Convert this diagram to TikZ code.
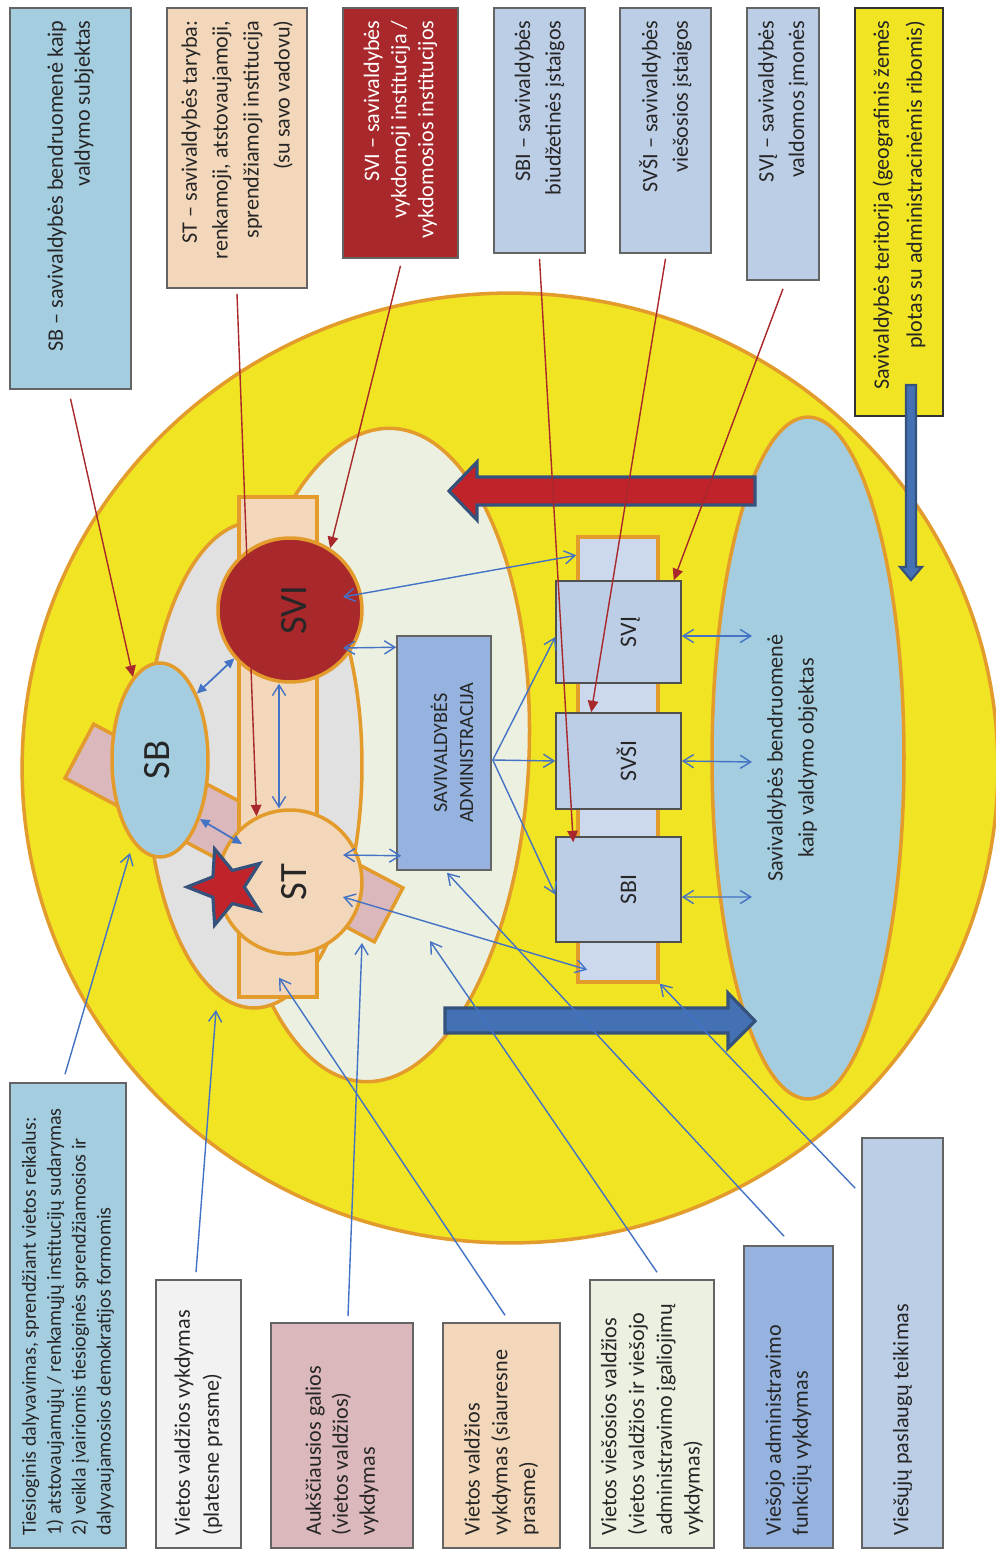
\documentclass[tikz,border=0pt]{standalone}
\usepackage{fontspec}
\setmainfont{Carlito}
\usepackage{graphicx}
\usepackage{tikz}
\usetikzlibrary{shapes.geometric, arrows.meta, calc}

\definecolor{terryellow}{RGB}{240, 228, 35}
\definecolor{rimorange}{RGB}{227, 155, 44}
\definecolor{zonegreen}{RGB}{235, 240, 225}
\definecolor{zonegrey}{RGB}{225, 225, 225}
\definecolor{sbblue}{RGB}{165, 205, 224}
\definecolor{stpeach}{RGB}{242, 215, 186}
\definecolor{svired}{RGB}{168, 40, 43}
\definecolor{powerpink}{RGB}{219, 184, 188}
\definecolor{unitsteel}{RGB}{188, 205, 230}
\definecolor{unitlav}{RGB}{203, 216, 238}
\definecolor{adminblue}{RGB}{149, 179, 222}
\definecolor{lightgrey}{RGB}{242, 242, 242}
\definecolor{bigred}{RGB}{193, 35, 42}
\definecolor{bigblue}{RGB}{67, 113, 180}
\definecolor{arrowedge}{RGB}{52, 82, 124}
\definecolor{linkblue}{RGB}{68, 114, 196}
\definecolor{linkred}{RGB}{168, 40, 43}
\definecolor{boxgray}{RGB}{100, 100, 100}
\definecolor{inkgray}{RGB}{38, 38, 38}

\newcommand\boxfont[1]{\fontsize{12.6}{#1}\selectfont}
\newcommand\vtext[1]{\rotatebox{90}{\begin{tabular}{@{}c@{}}#1\end{tabular}}}

\begin{document}
\begin{tikzpicture}[x=0.02cm, y=-0.02cm,
    box/.style={draw=boxgray, line width=0.9pt, rotate=90, inner ysep=0pt, inner xsep=0.25cm, text=inkgray},
    upbox/.style={box, align=flush right},
    lowbox/.style={box, align=flush left},
    rimmed/.style={draw=rimorange, line width=2pt, inner sep=0pt},
    unit/.style={draw=boxgray!80!black, line width=0.9pt, fill=unitsteel, inner sep=0pt, text=inkgray, font=\fontsize{13.5}{16}\selectfont},
    link/.style={draw=linkblue, line width=0.8pt},
    tie/.style={link, {Straight Barb[length=6pt,width=7.5pt]}-{Straight Barb[length=6pt,width=7.5pt]}},
    hint/.style={link, -{Straight Barb[length=6pt,width=7.5pt]}},
    grip/.style={link, line width=1pt, {Triangle[length=5.5pt,width=5pt]}-{Triangle[length=5.5pt,width=5pt]}},
    pointer/.style={draw=linkred, line width=0.8pt, -{Triangle[length=6.5pt,width=6pt]}},
    bigarrow/.style={draw=arrowedge, line width=1.8pt, line join=miter},
]
\path[use as bounding box, fill=white] (0,0) rectangle (995,1550);

% Territory and zones
\node[ellipse, rimmed, fill=terryellow, minimum width=19.52cm, minimum height=19cm] (terr) at (510,768) {};
\node[ellipse, rimmed, fill=sbblue, minimum width=3.84cm, minimum height=13.64cm, text=inkgray, font=\boxfont{17.6}] (obj) at (808,758) {\vtext{Savivaldybės bendruomenė\\kaip valdymo objektas}\hspace*{0.64cm}};
\node[ellipse, rimmed, fill=zonegreen, minimum width=6.04cm, minimum height=13.08cm, rotate=-2.5] (zone) at (378,755) {};
\node[ellipse, rimmed, fill=zonegrey, minimum width=4.32cm, minimum height=9.72cm] (grey) at (254,765) {};

% Council, executive and community
\node[rimmed, fill=powerpink, minimum width=7cm, minimum height=1.22cm, rotate=-27.9] (band) at (234,833) {};
\node[rimmed, fill=stpeach, minimum width=1.56cm, minimum height=10cm] (peach) at (278,747) {};
\node[ellipse, rimmed, fill=sbblue, minimum width=1.92cm, minimum height=3.88cm, text=inkgray, font=\fontsize{22}{26}\selectfont] (sbell) at (160,760) {\vtext{SB}};
\node[circle, rimmed, fill=svired, minimum size=2.88cm, text=inkgray, font=\fontsize{22}{26}\selectfont] (svic) at (290,610) {\hspace*{0.3cm}\vtext{SVI}};
\node[circle, rimmed, fill=stpeach, minimum size=2.88cm, text=inkgray, font=\fontsize{22}{26}\selectfont] (stc) at (290,882) {\hspace*{0.3cm}\vtext{ST}};
\node[star, star points=5, star point ratio=2.3, minimum size=1.6cm, inner sep=0pt, fill=bigred, draw=arrowedge, line width=1.8pt, rotate=90] (star) at (227,887) {};

% Administration and institutions
\node[draw=boxgray, line width=0.9pt, fill=adminblue, minimum width=1.88cm, minimum height=4.68cm, inner sep=0pt, text=inkgray, font=\fontsize{11.5}{14.8}\selectfont] (admin) at (444,753) {\hspace*{0.44cm}\vtext{SAVIVALDYBĖS\\ADMINISTRACIJA}};
\node[rimmed, fill=unitlav, minimum width=1.6cm, minimum height=8.9cm] (lav) at (618,759.5) {};
\node[unit, minimum width=2.5cm, minimum height=2.04cm] (svj) at (618.5,632) {\hspace*{0.48cm}\vtext{SVĮ}};
\node[unit, minimum width=2.5cm, minimum height=1.92cm] (svsi) at (618.5,761) {\hspace*{0.48cm}\vtext{SVŠI}};
\node[unit, minimum width=2.5cm, minimum height=2.1cm] (sbi) at (618.5,889.5) {\hspace*{0.48cm}\vtext{SBI}};

% Big arrows
\draw[bigarrow, fill=bigred] (755,477) -- (477,477) -- (477,462) -- (449,491) -- (477,520) -- (477,505) -- (755,505) -- cycle;
\draw[bigarrow, fill=bigblue] (445,1008) -- (728,1008) -- (728,993) -- (755,1021) -- (728,1048) -- (728,1033) -- (445,1033) -- cycle;

% Top labels
\node[upbox, fill=sbblue, minimum width=7.62cm, minimum height=2.42cm, text width=7.12cm, font=\boxfont{15.4}] (sbbox) at (70.5,198.5) {SB – savivaldybės bendruomenė kaip\\valdymo subjektas};
\node[upbox, fill=stpeach, minimum width=5.6cm, minimum height=2.8cm, text width=5.1cm, font=\boxfont{17.6}] (stbox) at (237,148) {ST – savivaldybės taryba:\\renkamoji, atstovaujamoji,\\sprendžiamoji institucija\\(su savo vadovu)};
\node[upbox, fill=svired, text=white, minimum width=5cm, minimum height=2.3cm, text width=4.5cm, font=\boxfont{15.4}] (svibox) at (400.5,133) {SVI – savivaldybės\\vykdomoji institucija /\\vykdomosios institucijos};
\node[upbox, fill=unitsteel, minimum width=4.9cm, minimum height=1.82cm, text width=4.4cm, font=\boxfont{17.4}] (sbibox) at (539.5,130.5) {SBI – savivaldybės\\biudžetinės įstaigos};
\node[upbox, fill=unitsteel, minimum width=4.9cm, minimum height=1.82cm, text width=4.4cm, font=\boxfont{17.4}] (svsibox) at (665.5,130.5) {SVŠI – savivaldybės\\viešosios įstaigos};
\node[upbox, fill=unitsteel, minimum width=5.44cm, minimum height=1.44cm, text width=4.94cm, font=\boxfont{17.4}] (svjbox) at (783,144) {SVĮ – savivaldybės\\valdomos įmonės};
\node[upbox, draw=black!80, fill=terryellow, minimum width=8.16cm, minimum height=1.76cm, text width=7.66cm, font=\boxfont{18.8}] (terbox) at (899,212) {Savivaldybės teritorija (geografinis žemės\\plotas su administracinėmis ribomis)};
\draw[bigarrow, line width=1.2pt, fill=bigblue] (906,385) -- (906,567) -- (900,567) -- (911,580) -- (922,567) -- (916,567) -- (916,385) -- cycle;

% Bottom labels
\node[lowbox, fill=sbblue, minimum width=9.3cm, minimum height=2.32cm, text width=8.8cm, font=\fontsize{11.4}{14.2}\selectfont] (tiesbox) at (68,1315.5) {Tiesioginis dalyvavimas, sprendžiant vietos reikalus:\\1) atstovaujamųjų / renkamųjų institucijų sudarymas\\2) veikla įvairiomis tiesioginės sprendžiamosios ir\\dalyvaujamosios demokratijos formomis};
\node[lowbox, fill=lightgrey, minimum width=5.36cm, minimum height=1.7cm, text width=4.86cm, font=\boxfont{16.5}] (platbox) at (198.5,1414) {Vietos valdžios vykdymas\\(platesne prasme)};
\node[lowbox, fill=powerpink, minimum width=4.5cm, minimum height=2.84cm, text width=4cm, font=\boxfont{15.4}] (aukbox) at (342,1435.5) {Aukščiausios galios\\(vietos valdžios)\\vykdymas};
\node[lowbox, fill=stpeach, minimum width=4.5cm, minimum height=2.34cm, text width=4cm, font=\boxfont{15.8}] (siaubox) at (501.5,1435.5) {Vietos valdžios\\vykdymas (siauresne\\prasme)};
\node[lowbox, fill=zonegreen, minimum width=5.36cm, minimum height=2.48cm, text width=4.86cm, font=\boxfont{15.8}] (viesbox) at (652,1414) {Vietos viešosios valdžios\\(vietos valdžios ir viešojo\\administravimo įgaliojimų\\vykdymas)};
\node[lowbox, fill=adminblue, minimum width=6.04cm, minimum height=1.78cm, text width=5.54cm, font=\boxfont{15.4}] (vadmbox) at (788.5,1397) {Viešojo administravimo\\funkcijų vykdymas};
\node[lowbox, fill=unitsteel, minimum width=8.2cm, minimum height=1.62cm, text width=7.7cm, font=\boxfont{15.4}] (paslbox) at (902.5,1343) {Viešųjų paslaugų teikimas};

% Red pointers from the top labels
\draw[pointer] ([yshift=-0.18cm]sbbox.west) -- (sbell.108);
\draw[pointer] ([yshift=-0.1cm]stbox.west) -- (stc.117);
\draw[pointer] ([yshift=-0.14cm]svibox.west) -- (svic.57);
\draw[pointer] ([yshift=-0.1cm]sbibox.west) -- ($(sbi.north west)+(18,6)$);
\draw[pointer] ([yshift=-0.1cm]svsibox.west) -- ($(svsi.north west)+(36,0)$);
\draw[pointer] ([yshift=-0.16cm]svjbox.west) -- ($(svj.north east)+(-8,0)$);

% Links between the bodies
\draw[tie] ($(svic)+(53,-13)$) -- ($(lav.north west)+(0,20)$);
\draw[tie] ($(svic)+(53,38)$) -- ($(admin.north west)+(0,12)$);
\draw[grip] (sbell.61) -- (svic.221);
\draw[grip] (sbell.-56) -- ($(stc)+(-48,-38)$);
\draw[tie] ($(svic.south)+(-11,0)$) -- ($(stc.north)+(-11,0)$);
\draw[tie] ($(stc)+(53,-27)$) -- ($(admin.south west)+(5,-15)$);
\draw[tie] ($(stc)+(53,15)$) -- ($(lav.south west)+(11,-14)$);
\coordinate (fan) at ($(admin.east)+(1,7)$);
\draw[hint] (fan) -- ($(svj.west)+(0,5)$);
\draw[hint] (fan) -- (svsi.west);
\draw[hint] (fan) -- ($(sbi.west)+(0,5)$);
\draw[tie] ($(svj.east)+(0,4)$) -- ($(obj)+(-56,-122)$);
\draw[tie] (svsi.east) -- ($(obj)+(-56,4)$);
\draw[tie] ($(sbi.east)+(0,7.5)$) -- ($(obj)+(-56,139)$);

% Blue pointers from the bottom labels
\draw[hint] ($(tiesbox.east)+(-3,-8)$) -- ($(sbell)+(-30,93)$);
\draw[hint] ($(platbox.east)+(-2.5,-7)$) -- ($(grey)+(-38,245)$);
\draw[hint] ($(aukbox.east)+(6,-6)$) -- ($(stc)+(72,61)$);
\draw[hint] ($(siaubox.east)+(3.5,-7)$) -- ($(peach.south)+(1,-21)$);
\draw[hint] ($(viesbox.east)+(5,-7)$) -- ($(zone)+(52,186)$);
\draw[hint] ($(vadmbox.east)+(-4.5,-9)$) -- ($(admin.south)+(3,2)$);
\draw[hint] ($(paslbox.north east)+(-6,51)$) -- (lav.south east);
\end{tikzpicture}
\end{document}
